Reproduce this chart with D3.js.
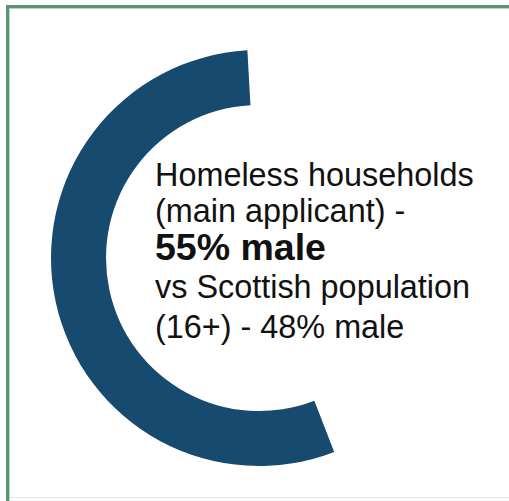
<!DOCTYPE html>
<html>
<head>
<meta charset="utf-8">
<script src="https://cdn.jsdelivr.net/npm/d3@7/dist/d3.min.js"></script>
<style>
  html, body { margin: 0; padding: 0; background: #fff; }
  svg { display: block; }
</style>
</head>
<body>
<svg id="chart" width="509" height="501"></svg>
<script>
// Share of homeless main applicants who are male vs the remainder
const categories = ["Other", "Male"];
const shares = [45, 55];
const visible = [false, true];

// Caption lines (bold flag marks the highlighted figure)
const captionLines = [
  "Homeless households",
  "(main applicant) -",
  "55% male",
  "vs Scottish population",
  "(16+) - 48% male"
];
const captionBold = [false, false, true, false, false];

const svg = d3.select("#chart");
const W = 509, H = 501;

// Frame: green rule along top and left, faint rule along the bottom
svg.append("rect").attr("x", 0).attr("y", 0).attr("width", W).attr("height", H).attr("fill", "#fff");
svg.append("rect").attr("x", 6).attr("y", 5).attr("width", W - 6).attr("height", 3).attr("fill", "#5b9473");
svg.append("rect").attr("x", 6).attr("y", 5).attr("width", 3).attr("height", H - 5).attr("fill", "#5b9473");
svg.append("rect").attr("x", 9).attr("y", 8).attr("width", W - 9).attr("height", 1).attr("fill", "#b9d2c3");
svg.append("rect").attr("x", 9).attr("y", 8).attr("width", 1).attr("height", H - 8).attr("fill", "#b9d2c3");
svg.append("rect").attr("x", 10).attr("y", 497).attr("width", W - 10).attr("height", 1).attr("fill", "#dfe6e2");

// Donut
const cx = 259, cy = 258;
const outerR = 208, innerR = 153;
const offset = -3.2 * Math.PI / 180;

const pie = d3.pie().sort(null).value(d => d)
  .startAngle(offset).endAngle(offset + 2 * Math.PI);
const arc = d3.arc().innerRadius(innerR).outerRadius(outerR);

const g = svg.append("g").attr("transform", `translate(${cx},${cy})`);
g.selectAll("path")
  .data(pie(shares))
  .join("path")
  .attr("d", arc)
  .attr("fill", (d, i) => visible[i] ? "#164a6f" : "none");

// Caption
const text = svg.append("text")
  .attr("x", 156)
  .attr("y", 186)
  .attr("font-family", "'Liberation Sans', Arial, sans-serif")
  .attr("font-size", 32.4)
  .attr("fill", "#111");
text.selectAll("tspan")
  .data(captionLines)
  .join("tspan")
  .attr("x", 155)
  .attr("dy", (d, i) => [0, 36, 38, 38, 40][i])
  .attr("font-size", (d, i) => captionBold[i] ? 37.5 : 32.4)
  .attr("font-weight", (d, i) => captionBold[i] ? "bold" : "normal")
  .text(d => d);
</script>
</body>
</html>
